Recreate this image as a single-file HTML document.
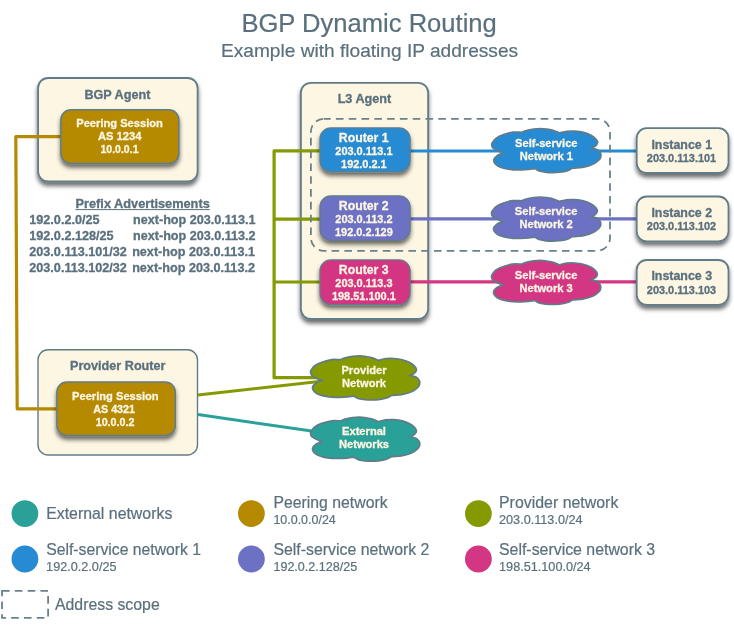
<!DOCTYPE html>
<html lang="en"><head><meta charset="utf-8"><title>BGP Dynamic Routing</title>
<style>
html,body{margin:0;padding:0;background:#fff;}
svg{display:block;will-change:transform;-webkit-font-smoothing:antialiased;font-family:"Liberation Sans",sans-serif;}
</style></head><body>
<svg width="734" height="625" viewBox="0 0 734 625">
<defs>
<filter id="sh" x="-20%" y="-20%" width="140%" height="150%">
<feDropShadow dx="0" dy="3.5" stdDeviation="2.2" flood-color="#000" flood-opacity="0.58"/>
</filter>
</defs>
<rect width="734" height="625" fill="#fff"/>
<text x="369.10" y="32.40" font-size="25.58" text-anchor="middle" fill="#5a707d" stroke="#5a707d" stroke-width="0.2">BGP Dynamic Routing</text>
<text x="369.55" y="56.70" font-size="19.12" text-anchor="middle" fill="#5a707d" stroke="#5a707d" stroke-width="0.2">Example with floating IP addresses</text>
<rect x="38.1" y="78" width="159.50" height="103.50" rx="10" ry="10" fill="#fdf6e3" stroke="#617c89" stroke-width="1.8" filter="url(#sh)"/>
<rect x="300.9" y="82.8" width="127.20" height="236.20" rx="10" ry="10" fill="#fdf6e3" stroke="#617c89" stroke-width="1.8" filter="url(#sh)"/>
<rect x="38.0" y="349.8" width="159.50" height="105.20" rx="10" ry="10" fill="#fdf6e3" stroke="#617c89" stroke-width="1.4"/>
<polyline points="119,136.7 15.8,136.7 17.2,408.8 116,408.8" fill="none" stroke="#b58900" stroke-width="3.2" stroke-linejoin="round"/>
<polyline points="365,219.1 274.1,219.1" fill="none" stroke="#859900" stroke-width="3.2" stroke-linejoin="round"/>
<polyline points="365,282.0 274.1,282.0" fill="none" stroke="#859900" stroke-width="3.2" stroke-linejoin="round"/>
<polyline points="365,150.9 274.1,150.9 274.1,377.7 364,377.7" fill="none" stroke="#859900" stroke-width="3.2" stroke-linejoin="round"/>
<polyline points="198,394.9 364,376.5" fill="none" stroke="#859900" stroke-width="3" stroke-linejoin="round"/>
<polyline points="198,414.6 364,438.5" fill="none" stroke="#2aa198" stroke-width="3" stroke-linejoin="round"/>
<polyline points="365,151.0 680,151.0" fill="none" stroke="#268bd2" stroke-width="3.2" stroke-linejoin="round"/>
<polyline points="365,218.8 680,218.8" fill="none" stroke="#6c71c4" stroke-width="3.2" stroke-linejoin="round"/>
<polyline points="365,281.9 680,281.9" fill="none" stroke="#d33682" stroke-width="3.2" stroke-linejoin="round"/>
<text x="117.40" y="99.20" font-size="12.64" text-anchor="middle" fill="#5a707d" font-weight="bold" stroke="#5a707d" stroke-width="0.3">BGP Agent</text>
<rect x="60.9" y="109.8" width="118.00" height="53.70" rx="10" ry="10" fill="#b58900" stroke="#617c89" stroke-width="1.5" filter="url(#sh)"/>
<text x="119.55" y="127.10" font-size="11.14" text-anchor="middle" fill="#fdf6e3" font-weight="bold" stroke="#fdf6e3" stroke-width="0.3">Peering Session</text>
<text x="119.75" y="139.50" font-size="11.18" text-anchor="middle" fill="#fdf6e3" font-weight="bold" stroke="#fdf6e3" stroke-width="0.3">AS 1234</text>
<text x="119.50" y="152.50" font-size="10.51" text-anchor="middle" fill="#fdf6e3" font-weight="bold" stroke="#fdf6e3" stroke-width="0.3">10.0.0.1</text>
<text x="142.65" y="207.90" font-size="12.76" text-anchor="middle" fill="#5a707d" font-weight="bold" stroke="#5a707d" stroke-width="0.3">Prefix Advertisements</text>
<line x1="75.5" y1="209.6" x2="209.8" y2="209.6" stroke="#5a707d" stroke-width="1"/>
<text x="29.30" y="223.80" font-size="12.63" fill="#5a707d" font-weight="bold" stroke="#5a707d" stroke-width="0.3">192.0.2.0/25</text>
<text x="194.30" y="223.80" font-size="12.60" text-anchor="middle" fill="#5a707d" font-weight="bold" stroke="#5a707d" stroke-width="0.3">next-hop 203.0.113.1</text>
<text x="29.30" y="239.50" font-size="12.63" fill="#5a707d" font-weight="bold" stroke="#5a707d" stroke-width="0.3">192.0.2.128/25</text>
<text x="194.30" y="239.50" font-size="12.60" text-anchor="middle" fill="#5a707d" font-weight="bold" stroke="#5a707d" stroke-width="0.3">next-hop 203.0.113.2</text>
<text x="29.30" y="255.50" font-size="12.63" fill="#5a707d" font-weight="bold" stroke="#5a707d" stroke-width="0.3">203.0.113.101/32</text>
<text x="193.55" y="255.50" font-size="12.63" text-anchor="middle" fill="#5a707d" font-weight="bold" stroke="#5a707d" stroke-width="0.3">next-hop 203.0.113.1</text>
<text x="29.30" y="271.60" font-size="12.63" fill="#5a707d" font-weight="bold" stroke="#5a707d" stroke-width="0.3">203.0.113.102/32</text>
<text x="193.55" y="271.60" font-size="12.63" text-anchor="middle" fill="#5a707d" font-weight="bold" stroke="#5a707d" stroke-width="0.3">next-hop 203.0.113.2</text>
<text x="364.40" y="102.70" font-size="12.64" text-anchor="middle" fill="#5a707d" font-weight="bold" stroke="#5a707d" stroke-width="0.3">L3 Agent</text>
<rect x="310.9" y="118.8" width="299.10" height="132.10" rx="13" ry="13" fill="none" stroke="#69818c" stroke-width="1.8" stroke-dasharray="7.6 5.2" stroke-dashoffset="0.8"/>
<rect x="320.0" y="127.9" width="90.10" height="43.90" rx="11" ry="11" fill="#268bd2" stroke="#617c89" stroke-width="1.3" filter="url(#sh)"/>
<text x="363.70" y="141.75" font-size="12.28" text-anchor="middle" fill="#fdf6e3" font-weight="bold" stroke="#fdf6e3" stroke-width="0.3">Router 1</text>
<text x="363.90" y="154.70" font-size="10.95" text-anchor="middle" fill="#fdf6e3" font-weight="bold" stroke="#fdf6e3" stroke-width="0.3">203.0.113.1</text>
<text x="363.90" y="167.60" font-size="10.95" text-anchor="middle" fill="#fdf6e3" font-weight="bold" stroke="#fdf6e3" stroke-width="0.3">192.0.2.1</text>
<rect x="320.0" y="195.9" width="90.10" height="44.40" rx="11" ry="11" fill="#6c71c4" stroke="#617c89" stroke-width="1.3" filter="url(#sh)"/>
<text x="363.70" y="210.05" font-size="12.28" text-anchor="middle" fill="#fdf6e3" font-weight="bold" stroke="#fdf6e3" stroke-width="0.3">Router 2</text>
<text x="363.90" y="223.00" font-size="10.95" text-anchor="middle" fill="#fdf6e3" font-weight="bold" stroke="#fdf6e3" stroke-width="0.3">203.0.113.2</text>
<text x="363.90" y="235.90" font-size="10.95" text-anchor="middle" fill="#fdf6e3" font-weight="bold" stroke="#fdf6e3" stroke-width="0.3">192.0.2.129</text>
<rect x="320.0" y="259.9" width="90.10" height="44.70" rx="11" ry="11" fill="#d33682" stroke="#617c89" stroke-width="1.3" filter="url(#sh)"/>
<text x="363.70" y="274.05" font-size="12.28" text-anchor="middle" fill="#fdf6e3" font-weight="bold" stroke="#fdf6e3" stroke-width="0.3">Router 3</text>
<text x="363.90" y="287.00" font-size="10.95" text-anchor="middle" fill="#fdf6e3" font-weight="bold" stroke="#fdf6e3" stroke-width="0.3">203.0.113.3</text>
<text x="363.90" y="299.90" font-size="10.95" text-anchor="middle" fill="#fdf6e3" font-weight="bold" stroke="#fdf6e3" stroke-width="0.3">198.51.100.1</text>
<path transform="translate(491.7,128.3) scale(1,1)" d="M30.4,4 C27.4,4.0 24.5,3.5 21.3,3.9 C18.1,4.3 14.1,5.5 11.3,6.5 C8.5,7.5 6.3,8.6 4.6,9.8 C2.9,11.1 1.7,12.9 0.9,14.0 C0.1,15.1 -0.1,15.5 0.0,16.5 C0.1,17.5 0.2,18.8 1.3,19.8 C2.4,20.8 4.6,21.9 6.3,22.7 C8.0,23.5 9.6,24.0 11.3,24.7 C9.4,25.6 7.0,26.1 5.5,27.3 C4.0,28.5 2.0,30.3 2.0,32.0 C2.0,33.7 3.7,35.9 5.5,37.3 C7.3,38.7 10.3,39.5 12.9,40.2 C15.5,40.9 18.5,41.3 21.3,41.5 C24.1,41.7 27.0,41.6 29.6,41.6 C32.2,41.6 34.8,41.4 37.0,41.2 C39.2,41.0 41.0,40.6 43.0,40.3 C44.8,41.2 46.6,42.4 48.5,43.0 C50.4,43.6 52.4,43.8 54.5,44.0 C56.6,44.2 58.8,44.3 61.0,44.3 C63.2,44.3 65.5,44.2 68.0,43.9 C70.5,43.6 73.8,43.0 76.0,42.3 C78.2,41.6 79.3,40.6 81.0,39.8 C84.3,39.5 88.1,39.4 90.9,39.0 C93.7,38.6 95.5,38.0 97.6,37.3 C99.7,36.6 101.8,35.8 103.4,34.8 C105.1,33.8 106.5,32.6 107.5,31.5 C108.5,30.4 109.0,29.2 109.2,28.1 C109.4,27.0 109.3,25.9 108.8,24.8 C108.2,23.7 107.4,22.3 105.9,21.5 C104.4,20.7 101.7,20.4 99.6,19.8 C101.1,19.0 103.2,18.3 104.2,17.3 C105.2,16.3 105.9,15.1 105.9,14.0 C105.9,12.9 105.3,11.9 104.2,10.7 C103.1,9.5 101.3,8.0 99.2,6.9 C97.1,5.8 94.3,4.7 91.7,4.0 C89.1,3.3 86.2,3.0 83.4,2.8 C80.6,2.6 77.7,2.7 75.1,3.0 C72.5,3.3 70.4,4.1 68.0,4.7 C66.2,3.9 64.9,3.1 62.6,2.4 C60.3,1.7 56.6,1.1 54.3,0.7 C52.0,0.3 51.0,0.2 49.0,0.2 C47.0,0.2 44.6,0.3 42.1,0.7 C39.6,1.1 35.7,1.9 33.7,2.4 C31.8,2.9 31.5,3.5 30.4,4.0Z" fill="#268bd2" stroke="#617c89" stroke-width="1.7"/>
<text x="546.30" y="146.90" font-size="11.13" text-anchor="middle" fill="#fdf6e3" font-weight="bold" stroke="#fdf6e3" stroke-width="0.3">Self-service</text>
<text x="546.30" y="159.90" font-size="11.13" text-anchor="middle" fill="#fdf6e3" font-weight="bold" stroke="#fdf6e3" stroke-width="0.3">Network 1</text>
<path transform="translate(491.5,196.8) scale(1,1)" d="M30.4,4 C27.4,4.0 24.5,3.5 21.3,3.9 C18.1,4.3 14.1,5.5 11.3,6.5 C8.5,7.5 6.3,8.6 4.6,9.8 C2.9,11.1 1.7,12.9 0.9,14.0 C0.1,15.1 -0.1,15.5 0.0,16.5 C0.1,17.5 0.2,18.8 1.3,19.8 C2.4,20.8 4.6,21.9 6.3,22.7 C8.0,23.5 9.6,24.0 11.3,24.7 C9.4,25.6 7.0,26.1 5.5,27.3 C4.0,28.5 2.0,30.3 2.0,32.0 C2.0,33.7 3.7,35.9 5.5,37.3 C7.3,38.7 10.3,39.5 12.9,40.2 C15.5,40.9 18.5,41.3 21.3,41.5 C24.1,41.7 27.0,41.6 29.6,41.6 C32.2,41.6 34.8,41.4 37.0,41.2 C39.2,41.0 41.0,40.6 43.0,40.3 C44.8,41.2 46.6,42.4 48.5,43.0 C50.4,43.6 52.4,43.8 54.5,44.0 C56.6,44.2 58.8,44.3 61.0,44.3 C63.2,44.3 65.5,44.2 68.0,43.9 C70.5,43.6 73.8,43.0 76.0,42.3 C78.2,41.6 79.3,40.6 81.0,39.8 C84.3,39.5 88.1,39.4 90.9,39.0 C93.7,38.6 95.5,38.0 97.6,37.3 C99.7,36.6 101.8,35.8 103.4,34.8 C105.1,33.8 106.5,32.6 107.5,31.5 C108.5,30.4 109.0,29.2 109.2,28.1 C109.4,27.0 109.3,25.9 108.8,24.8 C108.2,23.7 107.4,22.3 105.9,21.5 C104.4,20.7 101.7,20.4 99.6,19.8 C101.1,19.0 103.2,18.3 104.2,17.3 C105.2,16.3 105.9,15.1 105.9,14.0 C105.9,12.9 105.3,11.9 104.2,10.7 C103.1,9.5 101.3,8.0 99.2,6.9 C97.1,5.8 94.3,4.7 91.7,4.0 C89.1,3.3 86.2,3.0 83.4,2.8 C80.6,2.6 77.7,2.7 75.1,3.0 C72.5,3.3 70.4,4.1 68.0,4.7 C66.2,3.9 64.9,3.1 62.6,2.4 C60.3,1.7 56.6,1.1 54.3,0.7 C52.0,0.3 51.0,0.2 49.0,0.2 C47.0,0.2 44.6,0.3 42.1,0.7 C39.6,1.1 35.7,1.9 33.7,2.4 C31.8,2.9 31.5,3.5 30.4,4.0Z" fill="#6c71c4" stroke="#617c89" stroke-width="1.7"/>
<text x="546.10" y="215.40" font-size="11.13" text-anchor="middle" fill="#fdf6e3" font-weight="bold" stroke="#fdf6e3" stroke-width="0.3">Self-service</text>
<text x="546.10" y="228.40" font-size="11.13" text-anchor="middle" fill="#fdf6e3" font-weight="bold" stroke="#fdf6e3" stroke-width="0.3">Network 2</text>
<path transform="translate(491.5,260.2) scale(1,1)" d="M30.4,4 C27.4,4.0 24.5,3.5 21.3,3.9 C18.1,4.3 14.1,5.5 11.3,6.5 C8.5,7.5 6.3,8.6 4.6,9.8 C2.9,11.1 1.7,12.9 0.9,14.0 C0.1,15.1 -0.1,15.5 0.0,16.5 C0.1,17.5 0.2,18.8 1.3,19.8 C2.4,20.8 4.6,21.9 6.3,22.7 C8.0,23.5 9.6,24.0 11.3,24.7 C9.4,25.6 7.0,26.1 5.5,27.3 C4.0,28.5 2.0,30.3 2.0,32.0 C2.0,33.7 3.7,35.9 5.5,37.3 C7.3,38.7 10.3,39.5 12.9,40.2 C15.5,40.9 18.5,41.3 21.3,41.5 C24.1,41.7 27.0,41.6 29.6,41.6 C32.2,41.6 34.8,41.4 37.0,41.2 C39.2,41.0 41.0,40.6 43.0,40.3 C44.8,41.2 46.6,42.4 48.5,43.0 C50.4,43.6 52.4,43.8 54.5,44.0 C56.6,44.2 58.8,44.3 61.0,44.3 C63.2,44.3 65.5,44.2 68.0,43.9 C70.5,43.6 73.8,43.0 76.0,42.3 C78.2,41.6 79.3,40.6 81.0,39.8 C84.3,39.5 88.1,39.4 90.9,39.0 C93.7,38.6 95.5,38.0 97.6,37.3 C99.7,36.6 101.8,35.8 103.4,34.8 C105.1,33.8 106.5,32.6 107.5,31.5 C108.5,30.4 109.0,29.2 109.2,28.1 C109.4,27.0 109.3,25.9 108.8,24.8 C108.2,23.7 107.4,22.3 105.9,21.5 C104.4,20.7 101.7,20.4 99.6,19.8 C101.1,19.0 103.2,18.3 104.2,17.3 C105.2,16.3 105.9,15.1 105.9,14.0 C105.9,12.9 105.3,11.9 104.2,10.7 C103.1,9.5 101.3,8.0 99.2,6.9 C97.1,5.8 94.3,4.7 91.7,4.0 C89.1,3.3 86.2,3.0 83.4,2.8 C80.6,2.6 77.7,2.7 75.1,3.0 C72.5,3.3 70.4,4.1 68.0,4.7 C66.2,3.9 64.9,3.1 62.6,2.4 C60.3,1.7 56.6,1.1 54.3,0.7 C52.0,0.3 51.0,0.2 49.0,0.2 C47.0,0.2 44.6,0.3 42.1,0.7 C39.6,1.1 35.7,1.9 33.7,2.4 C31.8,2.9 31.5,3.5 30.4,4.0Z" fill="#d33682" stroke="#617c89" stroke-width="1.7"/>
<text x="546.10" y="278.80" font-size="11.13" text-anchor="middle" fill="#fdf6e3" font-weight="bold" stroke="#fdf6e3" stroke-width="0.3">Self-service</text>
<text x="546.10" y="291.80" font-size="11.13" text-anchor="middle" fill="#fdf6e3" font-weight="bold" stroke="#fdf6e3" stroke-width="0.3">Network 3</text>
<path transform="translate(310.5,355.7) scale(1,1)" d="M30.4,4 C27.4,4.0 24.5,3.5 21.3,3.9 C18.1,4.3 14.1,5.5 11.3,6.5 C8.5,7.5 6.3,8.6 4.6,9.8 C2.9,11.1 1.7,12.9 0.9,14.0 C0.1,15.1 -0.1,15.5 0.0,16.5 C0.1,17.5 0.2,18.8 1.3,19.8 C2.4,20.8 4.6,21.9 6.3,22.7 C8.0,23.5 9.6,24.0 11.3,24.7 C9.4,25.6 7.0,26.1 5.5,27.3 C4.0,28.5 2.0,30.3 2.0,32.0 C2.0,33.7 3.7,35.9 5.5,37.3 C7.3,38.7 10.3,39.5 12.9,40.2 C15.5,40.9 18.5,41.3 21.3,41.5 C24.1,41.7 27.0,41.6 29.6,41.6 C32.2,41.6 34.8,41.4 37.0,41.2 C39.2,41.0 41.0,40.6 43.0,40.3 C44.8,41.2 46.6,42.4 48.5,43.0 C50.4,43.6 52.4,43.8 54.5,44.0 C56.6,44.2 58.8,44.3 61.0,44.3 C63.2,44.3 65.5,44.2 68.0,43.9 C70.5,43.6 73.8,43.0 76.0,42.3 C78.2,41.6 79.3,40.6 81.0,39.8 C84.3,39.5 88.1,39.4 90.9,39.0 C93.7,38.6 95.5,38.0 97.6,37.3 C99.7,36.6 101.8,35.8 103.4,34.8 C105.1,33.8 106.5,32.6 107.5,31.5 C108.5,30.4 109.0,29.2 109.2,28.1 C109.4,27.0 109.3,25.9 108.8,24.8 C108.2,23.7 107.4,22.3 105.9,21.5 C104.4,20.7 101.7,20.4 99.6,19.8 C101.1,19.0 103.2,18.3 104.2,17.3 C105.2,16.3 105.9,15.1 105.9,14.0 C105.9,12.9 105.3,11.9 104.2,10.7 C103.1,9.5 101.3,8.0 99.2,6.9 C97.1,5.8 94.3,4.7 91.7,4.0 C89.1,3.3 86.2,3.0 83.4,2.8 C80.6,2.6 77.7,2.7 75.1,3.0 C72.5,3.3 70.4,4.1 68.0,4.7 C66.2,3.9 64.9,3.1 62.6,2.4 C60.3,1.7 56.6,1.1 54.3,0.7 C52.0,0.3 51.0,0.2 49.0,0.2 C47.0,0.2 44.6,0.3 42.1,0.7 C39.6,1.1 35.7,1.9 33.7,2.4 C31.8,2.9 31.5,3.5 30.4,4.0Z" fill="#859900" stroke="#617c89" stroke-width="1.7"/>
<text x="364.00" y="373.80" font-size="11.13" text-anchor="middle" fill="#fdf6e3" font-weight="bold" stroke="#fdf6e3" stroke-width="0.3">Provider</text>
<text x="364.00" y="386.80" font-size="11.13" text-anchor="middle" fill="#fdf6e3" font-weight="bold" stroke="#fdf6e3" stroke-width="0.3">Network</text>
<path transform="translate(310.5,416.9) scale(1,1)" d="M30.4,4 C27.4,4.0 24.5,3.5 21.3,3.9 C18.1,4.3 14.1,5.5 11.3,6.5 C8.5,7.5 6.3,8.6 4.6,9.8 C2.9,11.1 1.7,12.9 0.9,14.0 C0.1,15.1 -0.1,15.5 0.0,16.5 C0.1,17.5 0.2,18.8 1.3,19.8 C2.4,20.8 4.6,21.9 6.3,22.7 C8.0,23.5 9.6,24.0 11.3,24.7 C9.4,25.6 7.0,26.1 5.5,27.3 C4.0,28.5 2.0,30.3 2.0,32.0 C2.0,33.7 3.7,35.9 5.5,37.3 C7.3,38.7 10.3,39.5 12.9,40.2 C15.5,40.9 18.5,41.3 21.3,41.5 C24.1,41.7 27.0,41.6 29.6,41.6 C32.2,41.6 34.8,41.4 37.0,41.2 C39.2,41.0 41.0,40.6 43.0,40.3 C44.8,41.2 46.6,42.4 48.5,43.0 C50.4,43.6 52.4,43.8 54.5,44.0 C56.6,44.2 58.8,44.3 61.0,44.3 C63.2,44.3 65.5,44.2 68.0,43.9 C70.5,43.6 73.8,43.0 76.0,42.3 C78.2,41.6 79.3,40.6 81.0,39.8 C84.3,39.5 88.1,39.4 90.9,39.0 C93.7,38.6 95.5,38.0 97.6,37.3 C99.7,36.6 101.8,35.8 103.4,34.8 C105.1,33.8 106.5,32.6 107.5,31.5 C108.5,30.4 109.0,29.2 109.2,28.1 C109.4,27.0 109.3,25.9 108.8,24.8 C108.2,23.7 107.4,22.3 105.9,21.5 C104.4,20.7 101.7,20.4 99.6,19.8 C101.1,19.0 103.2,18.3 104.2,17.3 C105.2,16.3 105.9,15.1 105.9,14.0 C105.9,12.9 105.3,11.9 104.2,10.7 C103.1,9.5 101.3,8.0 99.2,6.9 C97.1,5.8 94.3,4.7 91.7,4.0 C89.1,3.3 86.2,3.0 83.4,2.8 C80.6,2.6 77.7,2.7 75.1,3.0 C72.5,3.3 70.4,4.1 68.0,4.7 C66.2,3.9 64.9,3.1 62.6,2.4 C60.3,1.7 56.6,1.1 54.3,0.7 C52.0,0.3 51.0,0.2 49.0,0.2 C47.0,0.2 44.6,0.3 42.1,0.7 C39.6,1.1 35.7,1.9 33.7,2.4 C31.8,2.9 31.5,3.5 30.4,4.0Z" fill="#2aa198" stroke="#617c89" stroke-width="1.7"/>
<text x="364.00" y="435.00" font-size="11.13" text-anchor="middle" fill="#fdf6e3" font-weight="bold" stroke="#fdf6e3" stroke-width="0.3">External</text>
<text x="364.00" y="448.00" font-size="11.13" text-anchor="middle" fill="#fdf6e3" font-weight="bold" stroke="#fdf6e3" stroke-width="0.3">Networks</text>
<rect x="636.7" y="128.2" width="91.80" height="44.80" rx="10" ry="10" fill="#fdf6e3" stroke="#617c89" stroke-width="1.8" filter="url(#sh)"/>
<text x="681.75" y="148.50" font-size="12.41" text-anchor="middle" fill="#5a707d" font-weight="bold" stroke="#5a707d" stroke-width="0.3">Instance 1</text>
<text x="681.50" y="161.90" font-size="10.95" text-anchor="middle" fill="#5a707d" font-weight="bold" stroke="#5a707d" stroke-width="0.3">203.0.113.101</text>
<rect x="636.7" y="196.5" width="91.80" height="44.80" rx="10" ry="10" fill="#fdf6e3" stroke="#617c89" stroke-width="1.8" filter="url(#sh)"/>
<text x="681.75" y="216.80" font-size="12.41" text-anchor="middle" fill="#5a707d" font-weight="bold" stroke="#5a707d" stroke-width="0.3">Instance 2</text>
<text x="681.50" y="230.20" font-size="10.95" text-anchor="middle" fill="#5a707d" font-weight="bold" stroke="#5a707d" stroke-width="0.3">203.0.113.102</text>
<rect x="636.7" y="260" width="91.80" height="44.80" rx="10" ry="10" fill="#fdf6e3" stroke="#617c89" stroke-width="1.8" filter="url(#sh)"/>
<text x="681.75" y="280.30" font-size="12.41" text-anchor="middle" fill="#5a707d" font-weight="bold" stroke="#5a707d" stroke-width="0.3">Instance 3</text>
<text x="681.50" y="293.70" font-size="10.95" text-anchor="middle" fill="#5a707d" font-weight="bold" stroke="#5a707d" stroke-width="0.3">203.0.113.103</text>
<text x="117.75" y="370.40" font-size="12.64" text-anchor="middle" fill="#5a707d" font-weight="bold" stroke="#5a707d" stroke-width="0.3">Provider Router</text>
<rect x="56.9" y="382.0" width="118.40" height="53.40" rx="10" ry="10" fill="#b58900" stroke="#617c89" stroke-width="1.5" filter="url(#sh)"/>
<text x="115.35" y="399.50" font-size="11.14" text-anchor="middle" fill="#fdf6e3" font-weight="bold" stroke="#fdf6e3" stroke-width="0.3">Peering Session</text>
<text x="114.15" y="412.90" font-size="10.77" text-anchor="middle" fill="#fdf6e3" font-weight="bold" stroke="#fdf6e3" stroke-width="0.3">AS 4321</text>
<text x="115.05" y="425.80" font-size="10.71" text-anchor="middle" fill="#fdf6e3" font-weight="bold" stroke="#fdf6e3" stroke-width="0.3">10.0.0.2</text>
<circle cx="24.9" cy="513.6" r="13.4" fill="#2aa198"/>
<circle cx="24.9" cy="559.0" r="13.4" fill="#268bd2"/>
<circle cx="251.4" cy="513.6" r="13.4" fill="#b58900"/>
<circle cx="251.4" cy="559.0" r="13.4" fill="#6c71c4"/>
<circle cx="478.4" cy="513.6" r="13.4" fill="#859900"/>
<circle cx="478.4" cy="559.0" r="13.4" fill="#d33682"/>
<text x="109.25" y="519.20" font-size="15.89" text-anchor="middle" fill="#5a707d" stroke="#5a707d" stroke-width="0.2">External networks</text>
<text x="123.60" y="555.20" font-size="15.76" text-anchor="middle" fill="#5a707d" stroke="#5a707d" stroke-width="0.2">Self-service network 1</text>
<text x="81.30" y="571.30" font-size="12.66" text-anchor="middle" fill="#5a707d" stroke="#5a707d" stroke-width="0.2">192.0.2.0/25</text>
<text x="330.50" y="508.20" font-size="15.80" text-anchor="middle" fill="#5a707d" stroke="#5a707d" stroke-width="0.2">Peering network</text>
<text x="304.60" y="524.40" font-size="12.47" text-anchor="middle" fill="#5a707d" stroke="#5a707d" stroke-width="0.2">10.0.0.0/24</text>
<text x="351.40" y="555.20" font-size="15.86" text-anchor="middle" fill="#5a707d" stroke="#5a707d" stroke-width="0.2">Self-service network 2</text>
<text x="315.30" y="571.30" font-size="12.56" text-anchor="middle" fill="#5a707d" stroke="#5a707d" stroke-width="0.2">192.0.2.128/25</text>
<text x="558.70" y="508.20" font-size="15.91" text-anchor="middle" fill="#5a707d" stroke="#5a707d" stroke-width="0.2">Provider network</text>
<text x="540.80" y="524.40" font-size="12.67" text-anchor="middle" fill="#5a707d" stroke="#5a707d" stroke-width="0.2">203.0.113.0/24</text>
<text x="577.10" y="555.20" font-size="15.88" text-anchor="middle" fill="#5a707d" stroke="#5a707d" stroke-width="0.2">Self-service network 3</text>
<text x="544.85" y="571.30" font-size="12.68" text-anchor="middle" fill="#5a707d" stroke="#5a707d" stroke-width="0.2">198.51.100.0/24</text>
<rect x="2.04" y="590.9" width="46.06" height="27.00" rx="0" ry="0" fill="none" stroke="#69818c" stroke-width="1.8" stroke-dasharray="7.6 5.2"/>
<text x="107.35" y="609.60" font-size="15.83" text-anchor="middle" fill="#5a707d" stroke="#5a707d" stroke-width="0.2">Address scope</text>
</svg>
</body></html>
